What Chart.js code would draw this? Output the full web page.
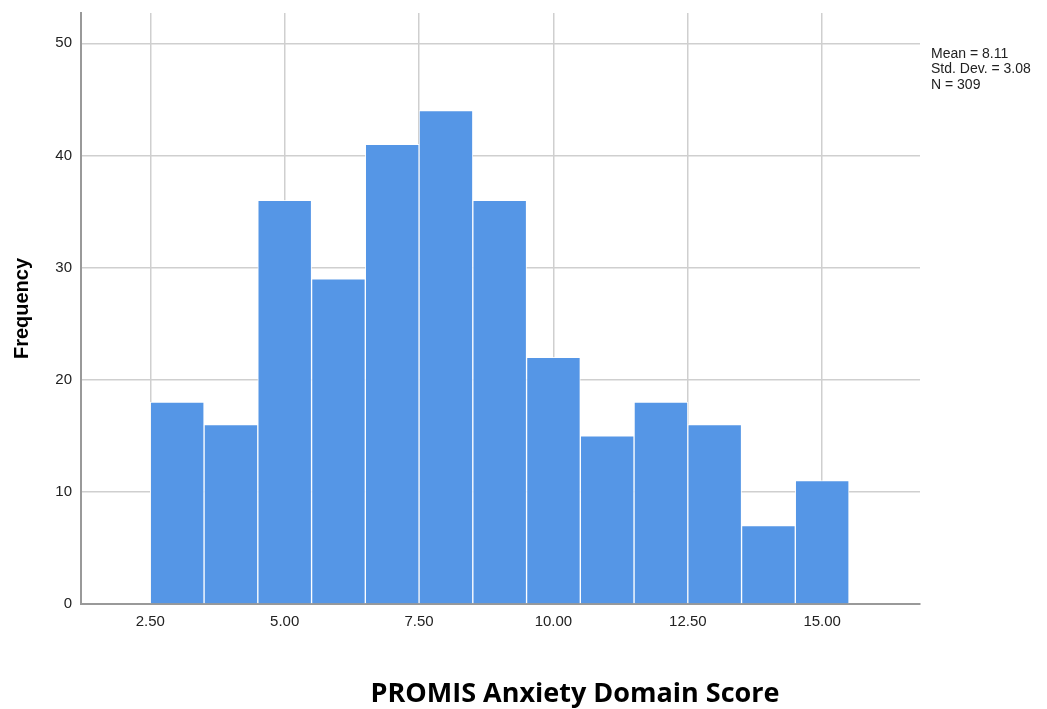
<!DOCTYPE html>
<html>
<head>
<meta charset="utf-8">
<script src="https://cdn.jsdelivr.net/npm/chart.js@4.4.0/dist/chart.umd.min.js"></script>
<style>
html,body{margin:0;padding:0;background:#fff;}
#wrap{width:1047px;height:709px;position:relative;}
</style>
</head>
<body>
<div id="wrap"><canvas id="c" width="1047" height="709"></canvas></div>
<script>
// Histogram bin centres (bin width 1.0, from 2.5 to 15.5)
const binCenters = [3, 4, 5, 6, 7, 8, 9, 10, 11, 12, 13, 14, 15];
const frequencies = [18, 16, 36, 29, 41, 44, 36, 22, 15, 18, 16, 7, 11];
const xTickValues = [2.5, 5.0, 7.5, 10.0, 12.5, 15.0];
const xTickLabels = ["2.50", "5.00", "7.50", "10.00", "12.50", "15.00"];
const yTickValues = [0, 10, 20, 30, 40, 50];
const statsLines = ["Mean = 8.11", "Std. Dev. = 3.08", "N = 309"];
const xTitle = "PROMIS Anxiety Domain Score";

const textPlugin = {
  id: 'texts',
  afterDraw(chart) {
    const ctx = chart.ctx;
    ctx.save();
    ctx.fillStyle = '#222';
    ctx.font = '14px "Liberation Sans", Arial, sans-serif';
    ctx.textBaseline = 'middle';
    ctx.textAlign = 'left';
    const x = chart.chartArea.right + 11;
    statsLines.forEach((s, i) => ctx.fillText(s, x, 54 + i * 15.5));
    // x-axis title
    ctx.fillStyle = '#000';
    ctx.font = 'bold 27px "Open Sans", Lato, sans-serif';
    ctx.textAlign = 'center';
    ctx.textBaseline = 'alphabetic';
    ctx.fillText(xTitle, 575, 702);
    ctx.restore();
  }
};

new Chart(document.getElementById('c'), {
  type: 'bar',
  data: {
    datasets: [{
      data: binCenters.map((x, i) => ({ x: x, y: frequencies[i] })),
      backgroundColor: '#5596e6',
      borderColor: 'rgba(255,255,255,0.85)',
      borderWidth: 1,
      borderSkipped: 'start',
      barPercentage: 1.0,
      categoryPercentage: 1.0
    }]
  },
  options: {
    responsive: false,
    animation: false,
    devicePixelRatio: 1,
    layout: { padding: { top: 13, right: 127, left: 0, bottom: 0 } },
    plugins: { legend: { display: false }, tooltip: { enabled: false } },
    scales: {
      x: {
        type: 'linear',
        min: 1.21,
        max: 16.82,
        offset: false,
        afterBuildTicks(axis) { axis.ticks = xTickValues.map(v => ({ value: v })); },
        afterFit(axis) { axis.height = 105; axis.paddingLeft = 0; axis.paddingRight = 0; },
        ticks: {
          callback(v) { const i = xTickValues.indexOf(v); return i >= 0 ? xTickLabels[i] : ''; },
          font: { family: '"Liberation Sans", Arial, sans-serif', size: 15 },
          color: '#222',
          padding: 9,
          maxRotation: 0,
          autoSkip: false
        },
        grid: { color: '#cfcfcf', lineWidth: 1.5, drawTicks: false, offset: false },
        border: { color: '#999', width: 2 },
        title: { display: false }
      },
      y: {
        min: 0,
        max: 52.7,
        afterBuildTicks(axis) { axis.ticks = yTickValues.map(v => ({ value: v })); },
        afterFit(axis) { axis.width = 81; axis.paddingTop = 0; axis.paddingBottom = 0; },
        ticks: {
          font: { family: '"Liberation Sans", Arial, sans-serif', size: 15 },
          color: '#222',
          padding: 9
        },
        grid: { color: '#cfcfcf', lineWidth: 1.5, drawTicks: false },
        border: { color: '#999', width: 2 },
        title: {
          display: true,
          text: 'Frequency',
          font: { family: '"Liberation Sans", Arial, sans-serif', size: 20, weight: 'bold' },
          color: '#000',
          padding: { top: 10, bottom: 0 }
        }
      }
    }
  },
  plugins: [textPlugin]
});
</script>
</body>
</html>
